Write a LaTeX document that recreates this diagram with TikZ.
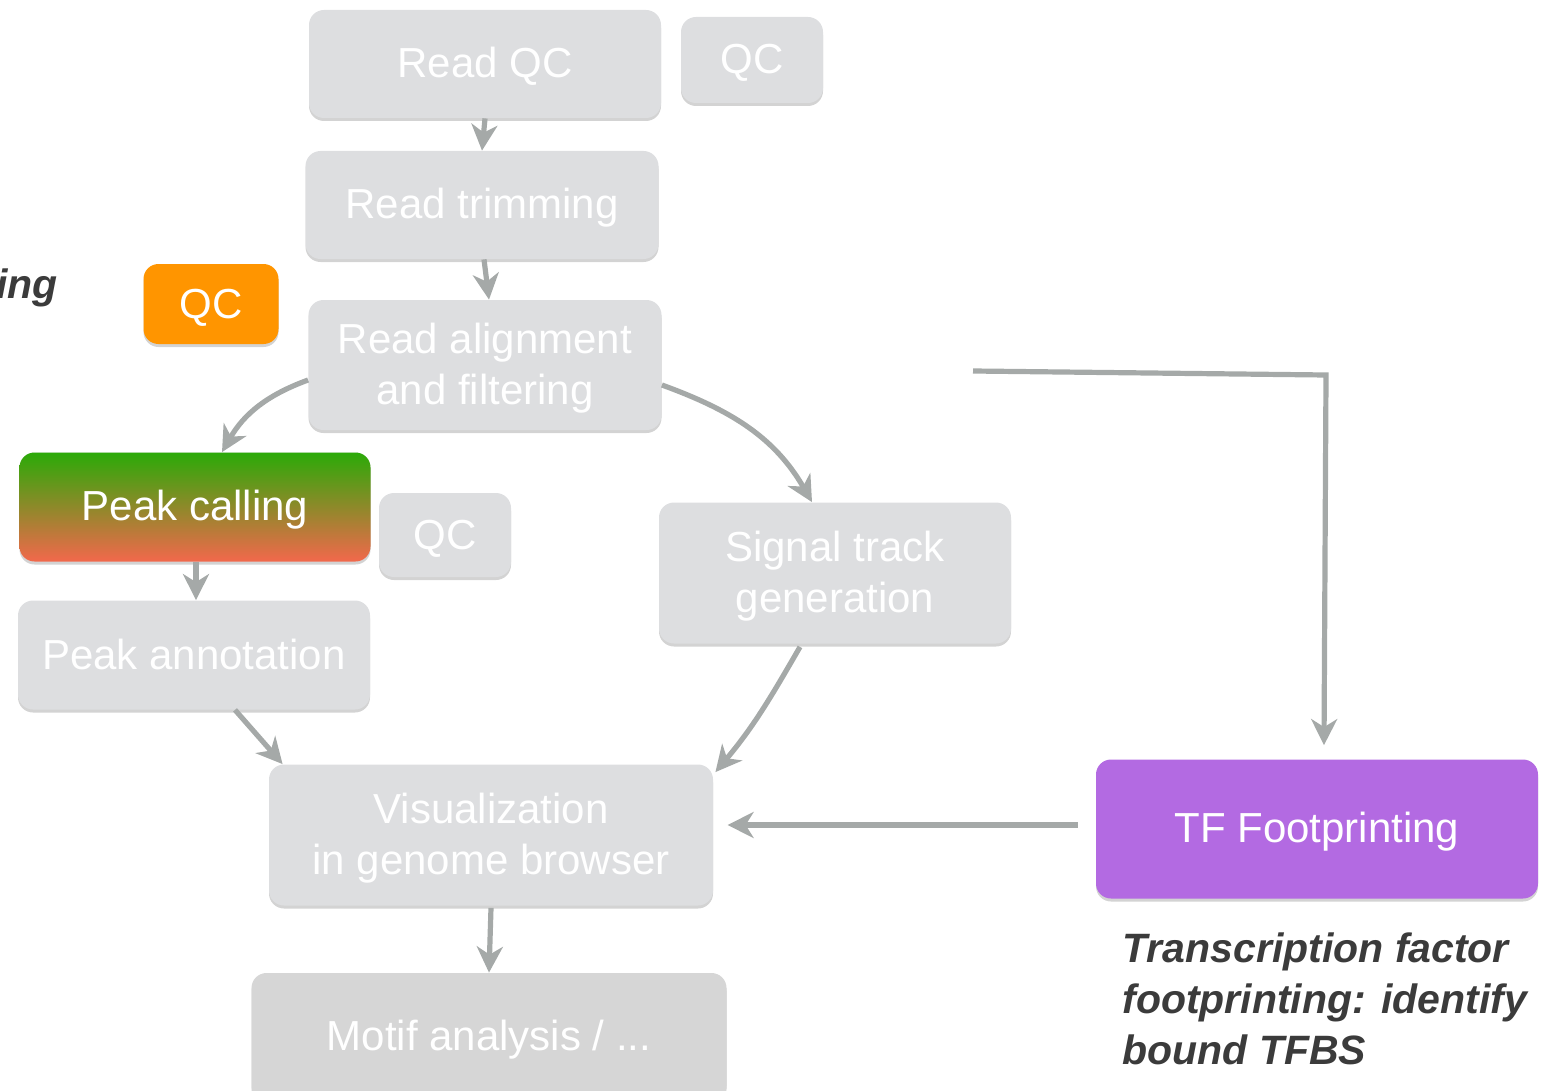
\documentclass[tikz,border=0pt]{standalone}
\usepackage{fontspec}
\setmainfont{Liberation Sans}
\usetikzlibrary{positioning,shadows,arrows.meta}
\definecolor{boxgray}{HTML}{DDDEE0}
\definecolor{motifgray}{HTML}{D6D6D6}
\definecolor{arrgray}{HTML}{A5A9A8}
\definecolor{qcorange}{HTML}{FF9500}
\definecolor{tfpurple}{HTML}{B36AE2}
\definecolor{pkgreen}{HTML}{2BAA08}
\definecolor{pkred}{HTML}{F2684C}
\definecolor{notegray}{HTML}{3B3B3B}
% same strut on every line, so the text sits like in the slides
\newcommand{\bs}{\rule[-4pt]{0pt}{22pt}}

\begin{document}
\begin{tikzpicture}[x=0.5pt,y=-0.5pt,
  stepbox/.style={rectangle, rounded corners=7.5pt, fill=boxgray, text=white,
    inner sep=0pt, align=center, font=\fontsize{21}{25.5}\selectfont,
    drop shadow={shadow xshift=0pt, shadow yshift=-1.5pt, opacity=0.35}},
  arr/.style={draw=arrgray, line width=2.6pt,
    -{Stealth[length=13pt,width=13pt,inset=4pt]}},
  note/.style={inner sep=0pt, text=notegray, align=left,
    font=\fontsize{20.5}{25.7}\selectfont\bfseries\itshape}]
\useasboundingbox (0,0) rectangle (1546,1091);

% boxes
\node[stepbox, minimum width=176pt, minimum height=54pt] (rqc) at (485,64) {\bs Read QC};
\node[stepbox, minimum width=71pt, minimum height=43pt] (qca) at (752,60) {\bs QC};
\node[stepbox, minimum width=176.5pt, minimum height=54pt] (rt) at (482,205) {\bs Read trimming};
\node[stepbox, fill=qcorange, minimum width=67.5pt, minimum height=40pt] (qcb) at (211,304) {\bs QC};
\node[stepbox, minimum width=176.5pt, minimum height=65pt] (ra) at (485,365) {\bs Read alignment\\\bs and filtering};
\node[stepbox, top color=pkgreen, bottom color=pkred, minimum width=175.5pt, minimum height=54.5pt] (pc) at (195,507) {\bs Peak calling};
\node[stepbox, minimum width=66pt, minimum height=42pt] (qcc) at (445,535) {\bs QC};
\node[stepbox, minimum width=176pt, minimum height=70.5pt] (st) at (835,573) {\bs Signal track\\\bs generation};
\node[stepbox, minimum width=176pt, minimum height=54.5pt] (pa) at (194,655) {\bs Peak annotation};
\node[stepbox, minimum width=222pt, minimum height=70.5pt] (vis) at (491,835) {\bs Visualization\\\bs in genome browser};
\node[stepbox, fill=motifgray, minimum width=237.5pt, minimum height=64pt] (ma) at (489,1037) {\bs Motif analysis / ...};
\node[stepbox, fill=tfpurple, minimum width=221pt, minimum height=69.5pt] (tf) at (1317,829) {\bs TF Footprinting};

% notes
\node[note, anchor=north west] (tfnote) at (1122,932) {Transcription factor\\footprinting: identify\\bound TFBS};
\node[note, anchor=base west] (leftnote) at (-4,298) {ing};

% arrows
\draw[arr] (rqc.south) -- (rt.north);
\draw[arr] ([xshift=1pt]rt.south) -- ([xshift=2pt]ra.north);
\draw[arr] ([yshift=-7.5pt]ra.west) to[out=200,in=60] ([xshift=13.5pt]pc.north);
\draw[arr] ([yshift=-10pt]ra.east) to[out=-20,in=120] ([xshift=-11.5pt]st.north);
\draw[arr] ([xshift=0.5pt]pc.south) -- ([xshift=1pt]pa.north);
\draw[arr] ([xshift=20.5pt]pa.south) -- ([xshift=7pt]vis.north west);
\draw[arr] ([xshift=-17.5pt,yshift=-1.5pt]st.south) to[out=240,in=50] ([xshift=1pt,yshift=-4pt]vis.north east);
\draw[arr] ([yshift=-1pt]vis.south) -- (ma.north);
\draw[arr] ([xshift=-9pt,yshift=2pt]tf.west) -- +(-175pt,0);
\coordinate (fpstart) at (973,371);
\draw[arr] (fpstart) -- ++(353,4) -- ([xshift=3.5pt,yshift=7pt]tf.north);
\end{tikzpicture}
\end{document}
